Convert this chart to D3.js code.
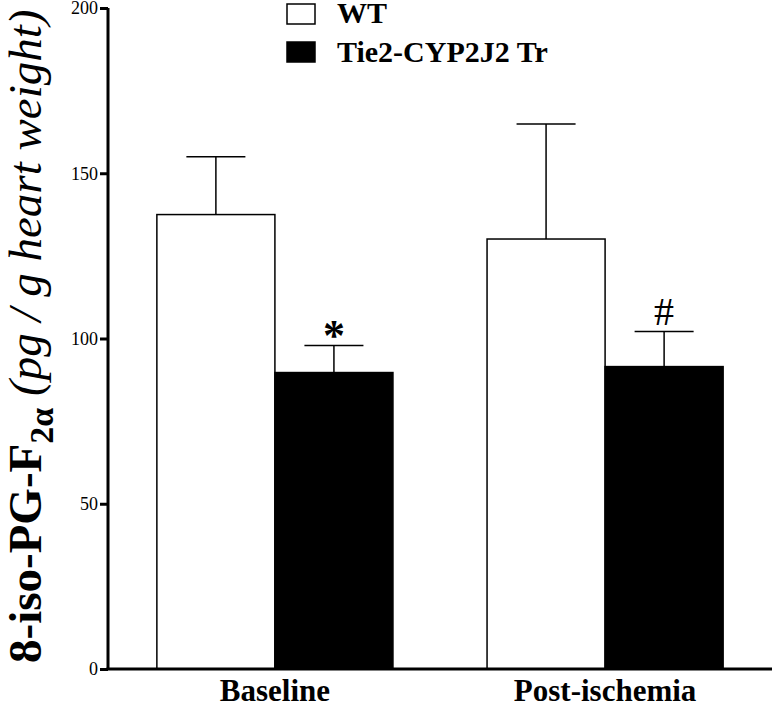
<!DOCTYPE html>
<html>
<head>
<meta charset="utf-8">
<script src="https://cdn.jsdelivr.net/npm/d3@7"></script>
<style>
  html, body { margin: 0; padding: 0; background: #fff; }
  svg { display: block; }
</style>
</head>
<body>
<script>
// ---- data ----
const categories = ["Baseline", "Post-ischemia"];
const seriesNames = ["WT", "Tie2-CYP2J2 Tr"];
const wtMeans = [137.5, 130.1];
const wtSEM = [17.5, 34.8];
const trMeans = [89.7, 91.5];
const trSEM = [8.2, 10.6];
const trMarks = ["*", "#"];
const yTicks = [0, 50, 100, 150, 200];

const FONT = '"Liberation Serif", "Times New Roman", Times, serif';
const W = 774, H = 705;
const svg = d3.select("body").append("svg").attr("width", W).attr("height", H);

const y = d3.scaleLinear().domain([0, 200]).range([669, 8]);
const x0 = d3.scaleBand().domain(categories).range([108, 772]).paddingInner(0.285).paddingOuter(0.148);
const x1 = d3.scaleBand().domain(seriesNames).range([0, x0.bandwidth()]);

const series = [
  { name: seriesNames[0], means: wtMeans, sem: wtSEM, fill: "#fff" },
  { name: seriesNames[1], means: trMeans, sem: trSEM, fill: "#000" }
];

const rows = [];
series.forEach(s => categories.forEach((c, i) => rows.push({ s, c, i, v: s.means[i], e: s.sem[i] })));

// error bars (upper only)
const eg = svg.append("g").attr("stroke", "#000").attr("stroke-width", 1.5);
rows.forEach(d => {
  const cx = x0(d.c) + x1(d.s.name) + x1.bandwidth() / 2;
  const half = x1.bandwidth() / 4;
  eg.append("line").attr("x1", cx).attr("x2", cx).attr("y1", y(d.v)).attr("y2", y(d.v + d.e));
  eg.append("line").attr("x1", cx - half).attr("x2", cx + half).attr("y1", y(d.v + d.e)).attr("y2", y(d.v + d.e));
});

// bars
svg.append("g").selectAll("rect").data(rows).join("rect")
  .attr("x", d => x0(d.c) + x1(d.s.name))
  .attr("y", d => y(d.v))
  .attr("width", x1.bandwidth())
  .attr("height", d => y(0) - y(d.v))
  .attr("fill", d => d.s.fill)
  .attr("stroke", "#000")
  .attr("stroke-width", 1.5);

// significance marks
categories.forEach((c, i) => {
  const cx = x0(c) + x1(seriesNames[1]) + x1.bandwidth() / 2;
  const top = y(trMeans[i] + trSEM[i]);
  const isStar = trMarks[i] === "*";
  svg.append("text")
    .attr("x", cx).attr("y", isStar ? top + 5 : top - 7)
    .attr("text-anchor", "middle")
    .style("font-family", FONT)
    .style("font-size", (isStar ? 44 : 40) + "px")
    .style("font-weight", isStar ? "bold" : "normal")
    .text(trMarks[i]);
});

// y axis
const yAxis = d3.axisLeft(y).tickValues(yTicks).tickSize(8).tickPadding(2).tickFormat(d3.format("d"));
const yg = svg.append("g").attr("transform", "translate(108,0)").call(yAxis);
yg.select(".domain").attr("stroke-width", 3).attr("d", `M0,${y(200)}V${y(0)}`);
yg.selectAll(".tick line").attr("stroke-width", 3);
yg.selectAll(".tick text").style("font-size", "18px").style("font-family", FONT);

// x axis
const xAxis = d3.axisBottom(x0).tickSize(0).tickPadding(10);
const xg = svg.append("g").attr("transform", `translate(0,${y(0)})`).call(xAxis);
xg.select(".domain").attr("stroke-width", 3).attr("d", `M106.5,0H772`);
xg.selectAll(".tick text").style("font-size", "31px").style("font-weight", "bold")
  .style("font-family", FONT).attr("dy", "0.71em");

// y label
const yl = svg.append("text").attr("transform", "translate(41,663) rotate(-90)")
  .style("font-family", FONT).style("font-size", "47px");
yl.append("tspan").style("font-weight", "bold").text("8-iso-PG-F");
yl.append("tspan").style("font-weight", "bold").style("font-size", "34px").attr("dy", 12).text("2α");
yl.append("tspan").style("font-style", "italic").attr("dy", -12).text(" (pg / g heart weight)");

// legend
const lg = svg.append("g");
series.forEach((s, i) => {
  lg.append("rect").attr("x", 287).attr("y", 4 + i * 38).attr("width", 28).attr("height", 20)
    .attr("fill", s.fill).attr("stroke", "#000").attr("stroke-width", 1.5);
  lg.append("text").attr("x", 337).attr("y", 23 + i * 39)
    .style("font-family", FONT).style("font-size", "30px").style("font-weight", "bold").text(s.name);
});
</script>
</body>
</html>
